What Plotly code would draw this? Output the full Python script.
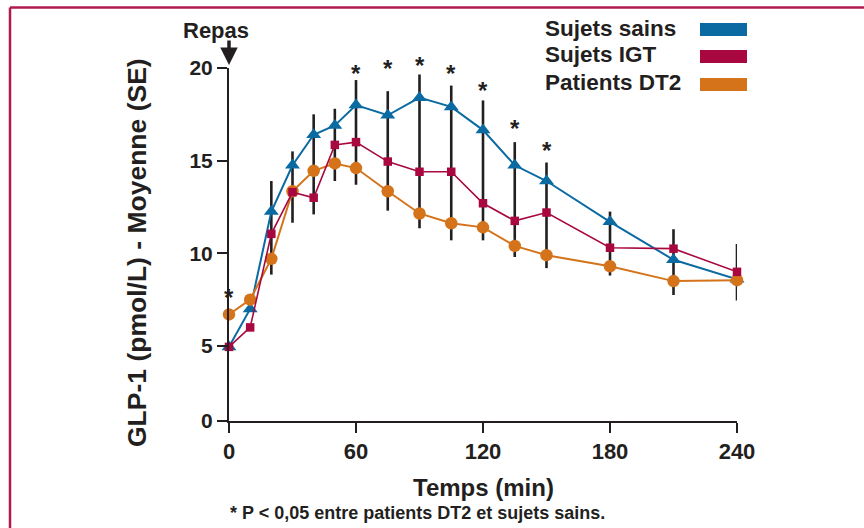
import plotly.graph_objects as go

# ---------------- data ----------------
time_min = [0, 10, 20, 30, 40, 50, 60, 75, 90, 105, 120, 135, 150, 180, 210, 240]

sains = [4.95, 7.0, 12.25, 14.75, 16.4, 16.9, 18.0, 17.45, 18.4, 17.9, 16.65, 14.75, 13.9, 11.7, 9.65, 8.6]
igt = [4.95, 6.0, 11.05, 13.3, 13.0, 15.85, 16.0, 14.95, 14.4, 14.4, 12.7, 11.75, 12.2, 10.3, 10.25, 9.0]
dt2 = [6.7, 7.5, 9.7, 13.35, 14.45, 14.85, 14.6, 13.35, 12.15, 11.62, 11.4, 10.4, 9.9, 9.3, 8.5, 8.55]

# SE bars (combined extent drawn at each time point)
err_low = [None, None, 8.85, 11.65, 12.1, 13.9, 13.7, 12.3, 11.35, 10.7, 10.7, 9.8, 9.2, 8.8, 7.75, 7.45]
err_high = [None, None, 13.9, 15.5, 17.5, 17.8, 19.35, 18.75, 19.65, 19.05, 18.25, 16.0, 14.9, 12.25, 11.3, 10.5]

# significance stars (P < 0.05 DT2 vs sains)
star_t = [0, 60, 75, 90, 105, 120, 135, 150]
star_y = [7.9, 19.95, 20.25, 20.4, 19.98, 19.08, 17.0, 15.84]

series_names = ["Sujets sains", "Sujets IGT", "Patients DT2"]
y_tickvals = [0.95, 5, 10, 15, 20]
y_ticktext = ["0", "5", "10", "15", "20"]
x_tickvals = [0, 60, 120, 180, 240]

# ---------------- style ----------------
BLUE = "#0a6aa1"
RED = "#a8083f"
ORANGE = "#d4731a"
INK = "#231f20"
BORDER = "#b01a50"
FONT = "Liberation Sans, Arial, sans-serif"

W, H = 864, 528
L, R, T, B = 229, 737, 68, 421  # plot area in pixels
XR = [0, 240]
YR = [0.95, 20]


def px(xp):
    return (xp - L) / (R - L)


def py(yp):
    return (B - yp) / (B - T)


fig = go.Figure()

# error bars
bar_t = [t for t, lo in zip(time_min, err_low) if lo is not None]
bar_lo = [lo for lo in err_low if lo is not None]
bar_span = [hi - lo for lo, hi in zip(err_low, err_high) if lo is not None]
fig.add_trace(go.Scatter(
    x=bar_t, y=bar_lo, mode="markers",
    marker=dict(size=0.1, color="rgba(0,0,0,0)"),
    error_y=dict(type="data", symmetric=False, array=bar_span,
                 arrayminus=[0] * len(bar_span), color=INK, thickness=2.6, width=0),
    showlegend=False, hoverinfo="skip"))

fig.add_trace(go.Scatter(
    x=time_min, y=sains, mode="lines+markers", name=series_names[0],
    line=dict(color=BLUE, width=2),
    marker=dict(symbol="triangle-up", size=13, color=BLUE),
    showlegend=False, cliponaxis=False))
fig.add_trace(go.Scatter(
    x=time_min, y=dt2, mode="lines+markers", name=series_names[2],
    line=dict(color=ORANGE, width=2),
    marker=dict(symbol="circle", size=12.5, color=ORANGE),
    showlegend=False, cliponaxis=False))
fig.add_trace(go.Scatter(
    x=time_min, y=igt, mode="lines+markers", name=series_names[1],
    line=dict(color=RED, width=1.6),
    marker=dict(symbol="square", size=8.5, color=RED),
    showlegend=False, cliponaxis=False))

annotations = []
shapes = []

# stars: positioned through the axis scale (paper fraction), so values above
# the axis top are still shown
for t, v in zip(star_t, star_y):
    annotations.append(dict(
        x=(t - XR[0]) / (XR[1] - XR[0]), y=(v - YR[0]) / (YR[1] - YR[0]),
        xref="paper", yref="paper", text="<b>*</b>", showarrow=False,
        xanchor="center", yanchor="middle", yshift=-5,
        font=dict(family=FONT, size=24, color=INK)))

# legend (text left, colour block right)
leg_colors = [BLUE, RED, ORANGE]
leg_y = [28, 55, 83]
for name, col, yc in zip(series_names, leg_colors, leg_y):
    annotations.append(dict(
        xref="paper", yref="paper", x=px(543), y=py(yc), xanchor="left", yanchor="middle",
        text="<b>%s</b>" % name, showarrow=False,
        font=dict(family=FONT, size=22.5, color=INK)))
    shapes.append(dict(
        type="rect", xref="paper", yref="paper",
        x0=px(700), x1=px(747), y0=py(yc + 8), y1=py(yc - 5),
        fillcolor=col, line=dict(width=0)))

# Repas + arrow
annotations.append(dict(
    xref="paper", yref="paper", x=px(216), y=py(30), text="<b>Repas</b>",
    showarrow=False, font=dict(family=FONT, size=22, color=INK),
    xanchor="center", yanchor="middle"))
annotations.append(dict(
    x=0, y=20, xref="x", yref="y", text="", showarrow=True,
    ax=0, ay=-26, axref="pixel", ayref="pixel", yshift=3,
    arrowhead=2, arrowsize=1.0, arrowwidth=3.5, arrowcolor=INK))

# axis titles
annotations.append(dict(
    xref="paper", yref="paper", x=px(137), y=py(253), textangle=-90,
    text="<b>GLP-1 (pmol/L) - Moyenne (SE)</b>", showarrow=False,
    font=dict(family=FONT, size=26.5, color=INK), xanchor="center", yanchor="middle"))
annotations.append(dict(
    xref="paper", yref="paper", x=0.5, y=py(487),
    text="<b>Temps (min)</b>", showarrow=False,
    font=dict(family=FONT, size=24, color=INK), xanchor="center", yanchor="middle"))
annotations.append(dict(
    xref="paper", yref="paper", x=px(228), y=py(513), xanchor="left", yanchor="middle",
    text="<b>* P < 0,05 entre patients DT2 et sujets sains.</b>", showarrow=False,
    font=dict(family=FONT, size=18, color=INK)))

# frame (top and left rule)
shapes.append(dict(type="line", xref="paper", yref="paper",
                   x0=px(10), x1=px(W + 5), y0=py(7.5), y1=py(7.5),
                   line=dict(color=BORDER, width=2.5)))
shapes.append(dict(type="line", xref="paper", yref="paper",
                   x0=px(10), x1=px(10), y0=py(7.5), y1=py(H + 5),
                   line=dict(color=BORDER, width=2.5)))

fig.update_layout(
    width=W, height=H,
    margin=dict(l=L, r=W - R, t=T, b=H - B, pad=0),
    paper_bgcolor="white", plot_bgcolor="white",
    showlegend=False,
    annotations=annotations, shapes=shapes,
    xaxis=dict(range=XR, tickvals=x_tickvals, ticks="outside", ticklen=10,
               tickwidth=2, tickcolor=INK, showline=True, linewidth=2, linecolor=INK,
               showgrid=False, zeroline=False,
               tickfont=dict(family=FONT, size=22, color=INK, weight="bold")),
    yaxis=dict(range=YR, tickvals=y_tickvals, ticktext=y_ticktext,
               ticks="outside", ticklen=10, tickwidth=2, tickcolor=INK,
               showline=True, linewidth=2, linecolor=INK,
               showgrid=False, zeroline=False,
               tickfont=dict(family=FONT, size=21, color=INK, weight="bold")),
)

fig.write_html("out.html")
